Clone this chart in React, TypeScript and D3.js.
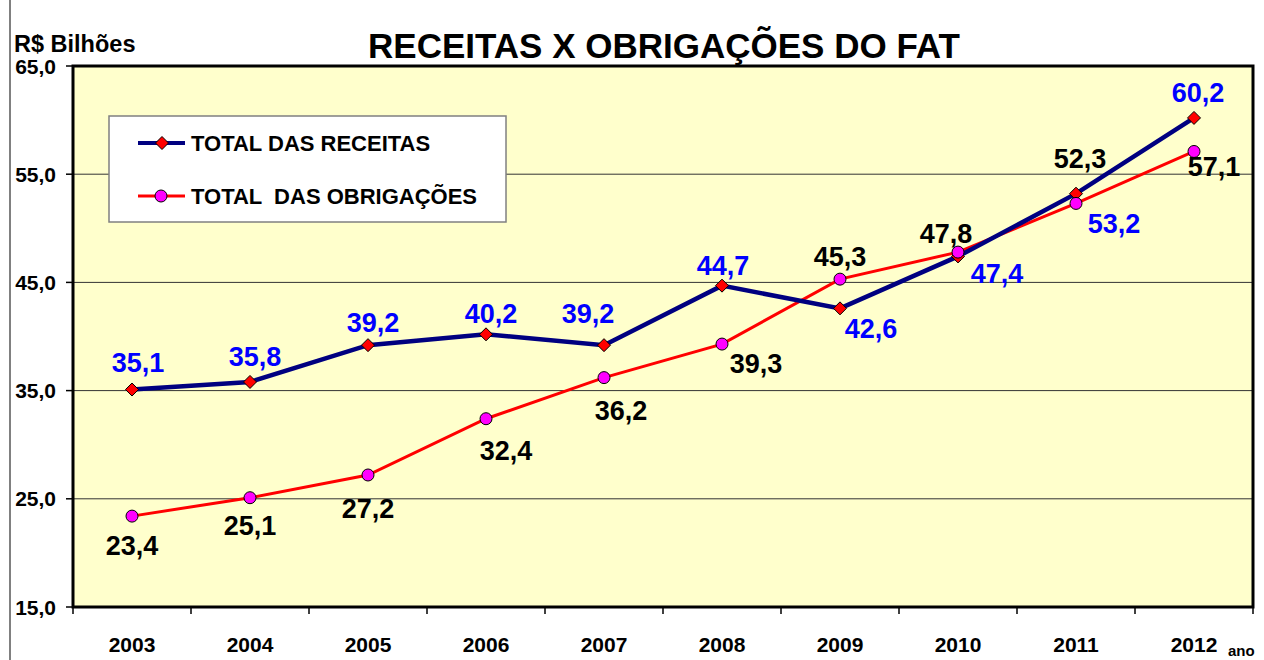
import * as d3 from "d3";

const years = ["2003", "2004", "2005", "2006", "2007", "2008", "2009", "2010", "2011", "2012"];
const receitas = [35.1, 35.8, 39.2, 40.2, 39.2, 44.7, 42.6, 47.4, 53.2, 60.2];
const obrigacoes = [23.4, 25.1, 27.2, 32.4, 36.2, 39.3, 45.3, 47.8, 52.3, 57.1];
const yTicks = [15, 25, 35, 45, 55, 65];

// label nudges (dx, dy to baseline), hand-placed like the original
const receitasLabelOffset = [[6, -18], [5, -16], [5, -13], [5, -11], [-16, -22], [1, -11], [31, 30], [39, 27], [38, 39], [4, -16]];
const obrigacoesLabelOffset = [[0, 39], [0, 37], [0, 43], [20, 41], [17, 42], [34, 29], [0, -13], [-12, -9], [4, -35], [20, 25]];

const W = 1264;
const H = 660;
const plot = { left: 73, right: 1253, top: 66, bottom: 607 };
const font = "Arial, 'Liberation Sans', sans-serif";
const fmt = (v: number) => v.toFixed(1).replace(".", ",");

export default function App() {
  const x = d3.scaleBand<string>().domain(years).range([plot.left, plot.right]);
  const y = d3.scaleLinear().domain([15, 65]).range([plot.bottom, plot.top]);
  const cx = (yr: string) => (x(yr) as number) + x.bandwidth() / 2;

  const line = d3
    .line<number>()
    .x((_, i) => cx(years[i]))
    .y((d) => y(d));

  const diamond = (px: number, py: number, s = 6.5) =>
    `M${px},${py - s}L${px + s},${py}L${px},${py + s}L${px - s},${py}Z`;

  return (
    <svg width={W} height={H} style={{ position: "absolute", left: 0, top: 0, background: "#fff" }} fontFamily={font}>
      <line x1={10} x2={10} y1={0} y2={H} stroke="#808080" strokeWidth={2} />

      <text x={664} y={58} textAnchor="middle" fontSize={35} fontWeight="bold">
        RECEITAS X OBRIGAÇÕES DO FAT
      </text>
      <text x={14} y={52} fontSize={23.5} fontWeight="bold">R$ Bilhões</text>

      <rect x={plot.left} y={plot.top} width={plot.right - plot.left} height={plot.bottom - plot.top} fill="#ffffcc" />
      {yTicks.slice(1, -1).map((t) => (
        <line key={t} x1={plot.left} x2={plot.right} y1={y(t)} y2={y(t)} stroke="#333" strokeWidth={1} />
      ))}

      {yTicks.map((t) => (
        <g key={t}>
          <line x1={plot.left - 7} x2={plot.left} y1={y(t)} y2={y(t)} stroke="#000" strokeWidth={1.5} />
          <text x={56} y={y(t)} dy="0.36em" textAnchor="end" fontSize={21} fontWeight="bold">
            {fmt(t)}
          </text>
        </g>
      ))}

      {years.map((yr, i) => (
        <g key={yr}>
          <line x1={(x(yr) as number) + x.bandwidth()} x2={(x(yr) as number) + x.bandwidth()} y1={plot.bottom} y2={plot.bottom + 7} stroke="#000" strokeWidth={1.5} />
          {i === 0 && <line x1={plot.left} x2={plot.left} y1={plot.bottom} y2={plot.bottom + 7} stroke="#000" strokeWidth={1.5} />}
          <text x={cx(yr)} y={652} textAnchor="middle" fontSize={21} fontWeight="bold">{yr}</text>
        </g>
      ))}
      <text x={1228} y={656} fontSize={15} fontWeight="bold">ano</text>

      <rect x={plot.left} y={plot.top} width={plot.right - plot.left} height={plot.bottom - plot.top} fill="none" stroke="#000" strokeWidth={3} />

      {/* legend */}
      <rect x={109} y={116} width={397} height={106} fill="#fff" stroke="#808080" strokeWidth={1.5} />
      <line x1={138} x2={185} y1={143} y2={143} stroke="#000080" strokeWidth={4} />
      <path d={diamond(162, 143)} fill="#ff0000" stroke="#000" strokeWidth={1} />
      <text x={191} y={151} fontSize={22} fontWeight="bold">TOTAL DAS RECEITAS</text>
      <line x1={138} x2={185} y1={196} y2={196} stroke="#ff0000" strokeWidth={3} />
      <circle cx={161} cy={196} r={6} fill="#ff00ff" stroke="#000" strokeWidth={1} />
      <text x={191} y={204} fontSize={22} fontWeight="bold" style={{ whiteSpace: "pre" }}>TOTAL  DAS OBRIGAÇÕES</text>

      <path d={line(obrigacoes) as string} fill="none" stroke="#ff0000" strokeWidth={3} />
      <path d={line(receitas) as string} fill="none" stroke="#000080" strokeWidth={4.5} />

      {receitas.map((v, i) => (
        <path key={"r" + i} d={diamond(cx(years[i]), y(v))} fill="#ff0000" stroke="#000" strokeWidth={1} />
      ))}
      {obrigacoes.map((v, i) => (
        <circle key={"o" + i} cx={cx(years[i])} cy={y(v)} r={6} fill="#ff00ff" stroke="#000" strokeWidth={1} />
      ))}

      {receitas.map((v, i) => (
        <text key={"rl" + i} x={cx(years[i]) + receitasLabelOffset[i][0]} y={y(v) + receitasLabelOffset[i][1]} textAnchor="middle" fontSize={27} fontWeight="bold" fill="#0000ff">
          {fmt(v)}
        </text>
      ))}
      {obrigacoes.map((v, i) => (
        <text key={"ol" + i} x={cx(years[i]) + obrigacoesLabelOffset[i][0]} y={y(v) + obrigacoesLabelOffset[i][1]} textAnchor="middle" fontSize={27} fontWeight="bold" fill="#000">
          {fmt(v)}
        </text>
      ))}
    </svg>
  );
}
